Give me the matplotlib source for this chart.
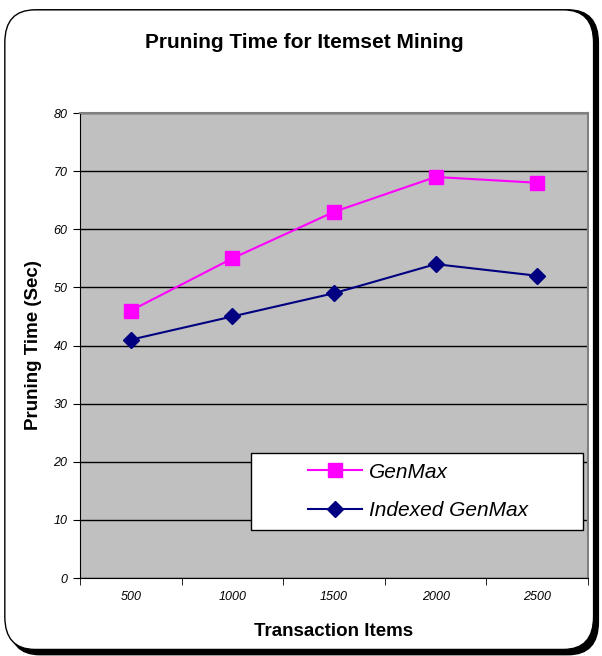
import matplotlib.pyplot as plt
from matplotlib.patches import FancyBboxPatch, Rectangle
from matplotlib.lines import Line2D

# Données
items = ["500", "1000", "1500", "2000", "2500"]
genmax = [46, 55, 63, 69, 68]
indexed_genmax = [41, 45, 49, 54, 52]

fig = plt.figure(figsize=(6.02, 6.56), dpi=100)
fig.patch.set_facecolor("white")

# Cadre arrondi avec ombre
shadow = FancyBboxPatch((0.016, 0.002), 0.978, 0.983, boxstyle="round,pad=0,rounding_size=0.05",
                        transform=fig.transFigure, facecolor="black", edgecolor="black", zorder=0)
frame = FancyBboxPatch((0.008, 0.01), 0.978, 0.975, boxstyle="round,pad=0,rounding_size=0.05",
                       transform=fig.transFigure, facecolor="white", edgecolor="black", lw=1.0, zorder=1)
fig.patches.extend([shadow, frame])

ax = fig.add_axes([0.1329, 0.1189, 0.8439, 0.7088])
ax.set_zorder(2)
ax.set_facecolor("#c0c0c0")

x = list(range(len(items)))
ax.plot(x, genmax, color="#ff00ff", marker="s", markersize=10, lw=1.5, zorder=3)
ax.plot(x, indexed_genmax, color="#000080", marker="D", markersize=8, lw=1.5, zorder=3)

ax.set_xlim(-0.5, len(items) - 0.5)
ax.set_ylim(0, 80)
ax.set_yticks(range(0, 81, 10))
ax.set_yticklabels([str(v) for v in range(0, 81, 10)], fontsize=9, style="italic", family="Liberation Sans")
ax.yaxis.grid(True, color="black", lw=1)
ax.set_axisbelow(True)

ax.set_xticks(x)
ax.set_xticklabels(items, fontsize=9, style="italic", family="Liberation Sans")
ax.tick_params(axis="x", length=0, pad=9)
ax.set_xticks([i + 0.5 for i in range(-1, len(items))], minor=True)
ax.tick_params(axis="x", which="minor", length=5, direction="out", color="black")
ax.tick_params(axis="y", length=5, direction="out", pad=4)

for s in ["top", "right"]:
    ax.spines[s].set_color("#808080")
    ax.spines[s].set_linewidth(1.5)
ax.spines["left"].set_color("black")
ax.spines["bottom"].set_color("black")

ax.set_xlabel("Transaction Items", fontsize=13.5, fontweight="bold", family="Liberation Sans", labelpad=15)
ax.set_ylabel("Pruning Time (Sec)", fontsize=13.5, fontweight="bold", family="Liberation Sans", labelpad=8)
fig.text(0.505, 0.935, "Pruning Time for Itemset Mining", ha="center", va="center",
         fontsize=15, fontweight="bold", family="Liberation Sans")

# Légende : cadre dessiné à part, contenu décalé vers la droite
box = Rectangle((0.3366, 0.103), 0.654, 0.166, transform=ax.transAxes,
                facecolor="white", edgecolor="black", lw=1, zorder=4)
ax.add_patch(box)
handles = [Line2D([], [], color="#ff00ff", marker="s", markersize=10, lw=1.5),
           Line2D([], [], color="#000080", marker="D", markersize=8, lw=1.5)]
leg = ax.legend(handles, ["GenMax", "Indexed GenMax"], loc="center left",
                bbox_to_anchor=(0.449, 0.186), frameon=False, borderpad=0, borderaxespad=0,
                prop={"family": "Liberation Sans", "style": "italic", "size": 15},
                handlelength=2.6, handletextpad=0.3, labelspacing=0.95)
leg.set_zorder(5)

plt.savefig("out.png", dpi=100)
